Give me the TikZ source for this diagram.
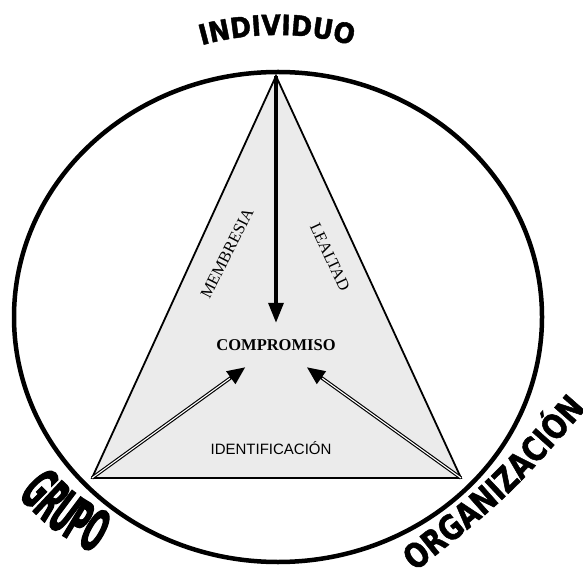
\documentclass[tikz,border=0pt]{standalone}
\usepackage{fontspec}
\setmainfont{Liberation Serif}
\newfontfamily\sanslabel{Liberation Sans}
\newfontfamily\topfont[FakeStretch=0.9,FakeBold=1.5]{DejaVu Sans Bold}
\newfontfamily\grupofont[FakeStretch=0.42,FakeBold=2]{DejaVu Sans Bold}
\newfontfamily\orgfont[FakeStretch=0.8,FakeBold=1.5]{DejaVu Sans Bold}
\usetikzlibrary{arrows.meta,decorations.text}

\begin{document}
\begin{tikzpicture}[
    x=1pt, y=1pt,
    ring/.style={line width=4.5pt},
    tri/.style={draw, line width=1.8pt, fill=gray!16},
    arrow/.style={line width=3.4pt, -{Triangle[length=20pt,width=15pt]}},
    dblarrow/.style={line width=3.4pt, -{Triangle[length=18pt,width=15pt]}},
    dblcore/.style={white, line width=1.1pt, shorten >=19pt},
    concept/.style={font=\bfseries\fontsize{16.5}{18}\selectfont,
                minimum height=44pt, inner sep=0pt},
    side/.style={font=\fontsize{16.5}{18}\selectfont, inner sep=0pt}
]

\useasboundingbox (0,0) rectangle (583,576);
\draw[ring] (278,259) ellipse [x radius=264, y radius=245];

\coordinate (indiv) at (276,500);
\coordinate (grupo) at (92,98);
\coordinate (org) at (461,98);
\draw[tri] (indiv) -- (grupo) -- (org) -- cycle;

\node[concept] (comp) at (276,231) {COMPROMISO};
\node[side, rotate=63] (memb) at (227,323) {MEMBRESIA};
\node[side, rotate=-65] (leal) at (330,319) {LEALTAD};
\node[font=\sanslabel\fontsize{15}{17}\selectfont] (ident) at (271,128) {IDENTIFICACIÓN};

\draw[arrow] (indiv) -- (comp);
\draw[dblarrow] (grupo) -- (comp);
\draw[dblcore] (grupo) -- (comp);
\draw[dblarrow] (org) -- (comp);
\draw[dblcore] (org) -- (comp);

\path[decorate, decoration={text along path, text align=center,
    text={|\topfont\fontsize{28}{28}\selectfont|INDIVIDUO}}]
    (277,261) ++(112:280) arc[start angle=112, end angle=68, radius=280];
\path[decorate, decoration={text along path, text align=center,
    text={|\grupofont\fontsize{58}{58}\selectfont|GRUPO}}]
    (11,87) .. controls (51,46) .. (102,18);
\path[decorate, decoration={text along path, text align=center,
    text={|\orgfont\fontsize{34}{34}\selectfont|ORGANIZACIÓN}}]
    (406,-3) .. controls (508,78) .. (594,176);

\end{tikzpicture}
\end{document}
